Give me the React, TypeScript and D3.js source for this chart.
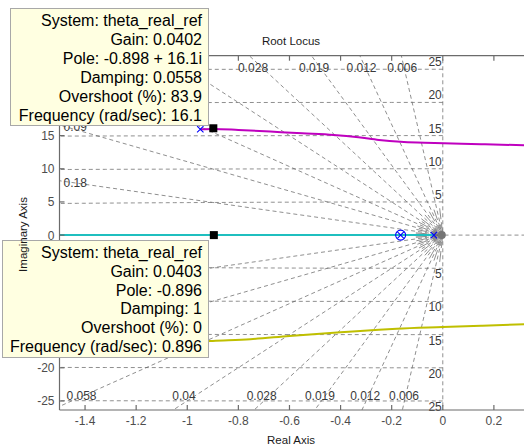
import { useRef, useEffect } from "react";
import * as d3 from "d3";

// axis ticks
const xTicks = [-1.4, -1.2, -1, -0.8, -0.6, -0.4, -0.2, 0, 0.2];
const yTicks = [-25, -20, -15, -10, -5, 0, 5, 10, 15, 20, 25];

// sgrid: damping ratios (labelled) and natural frequencies
const zetaLabelled = [0.006, 0.012, 0.019, 0.028, 0.04, 0.058, 0.09, 0.18];
const zetaInner = [0.003, 0.009, 0.015, 0.023, 0.034, 0.048, 0.072, 0.12, 0.3, 0.6];
const wnGrid = [5, 10, 15, 20, 25];

// root locus branches
const magentaRe = [-0.949, -0.898, -0.8, -0.675, -0.55, -0.427, -0.33, -0.25, -0.165, -0.1, 0.004, 0.15, 0.318, 0.45];
const magentaIm = [15.95, 16.0, 15.85, 15.6, 15.35, 15.1, 14.75, 14.35, 14.07, 13.95, 13.85, 13.7, 13.55, 13.5];
const yellowRe = [-0.949, -0.9, -0.753, -0.6, -0.4, -0.25, -0.18, 0.0, 0.15, 0.318, 0.45];
const yellowIm = [-16.05, -15.95, -15.7, -15.2, -14.65, -14.25, -14.1, -13.85, -13.65, -13.45, -13.35];
const cyanRe = [-1.7, -0.035];
const cyanIm = [0, 0];

// open-loop poles and zeros
const poleRe = [-0.949, -0.949, -0.165, -0.035];
const poleIm = [15.95, -16.05, 0, 0];
const zeroRe = [-0.165];
const zeroIm = [0];

// data tips
const tipRe = [-0.898, -0.896];
const tipIm = [16.1, 0];
const tipTop = [
  "System: theta_real_ref",
  "Gain: 0.0402",
  "Pole: -0.898 + 16.1i",
  "Damping: 0.0558",
  "Overshoot (%): 83.9",
  "Frequency (rad/sec): 16.1",
];
const tipBottom = [
  "System: theta_real_ref",
  "Gain: 0.0403",
  "Pole: -0.896",
  "Damping: 1",
  "Overshoot (%): 0",
  "Frequency (rad/sec): 0.896",
];

const FONT = "'Liberation Sans', Arial, sans-serif";

export default function App() {
  const svgRef = useRef<SVGSVGElement>(null);

  useEffect(() => {
    if (!svgRef.current) return;
    const width = 524;
    const height = 448;
    const left = 59.5, top = 55.7, bottom = 410, right = 545;

    // data tip boxes [x, y, w, h]
    const boxes = [
      [10.5, 8.5, 198, 117],
      [2.5, 240.5, 206, 117],
    ];
    const hidden = (px: number, py: number) =>
      boxes.some(([bx, by, bw, bh]) => px > bx - 10 && px < bx + bw && py > by && py < by + bh + 3);

    const svg = d3.select(svgRef.current);
    svg.selectAll("*").remove();
    svg.attr("width", width).attr("height", height);

    const x = d3.scaleLinear().domain([-1.5, 0.4]).range([left, right]);
    const y = d3.scaleLinear().domain([-26.36, 27.04]).range([bottom, top]);

    svg.append("rect").attr("width", width).attr("height", height).attr("fill", "#fff");

    svg.append("clipPath").attr("id", "plot")
      .append("rect").attr("x", left).attr("y", top)
      .attr("width", right - left).attr("height", bottom - top);

    const grid = svg.append("g").attr("clip-path", "url(#plot)")
      .attr("fill", "none").attr("stroke", "#5f5f5f")
      .attr("stroke-width", 0.7).attr("stroke-dasharray", "4,3");

    // natural frequency circles
    const arc = d3.line<[number, number]>().x((d) => x(d[0])).y((d) => y(d[1]));
    const zs = d3.range(0, 0.4, 0.002);
    wnGrid.forEach((wn) => {
      [1, -1].forEach((s) => {
        grid.append("path").attr("d", arc(zs.map((z) => [-z * wn, s * wn * Math.sqrt(1 - z * z)])));
      });
    });

    // imaginary and real axis grid lines
    grid.append("line").attr("x1", x(0)).attr("x2", x(0)).attr("y1", y(26.5)).attr("y2", bottom);
    grid.append("line").attr("x1", left).attr("x2", right).attr("y1", y(0)).attr("y2", y(0));

    // damping lines
    const wnMax = 40;
    zetaLabelled.forEach((z) => {
      [1, -1].forEach((s) => {
        grid.append("line")
          .attr("x1", x(0)).attr("y1", y(0))
          .attr("x2", x(-z * wnMax)).attr("y2", y(s * wnMax * Math.sqrt(1 - z * z)));
      });
    });
    const fanR = 27;
    zetaInner.forEach((z) => {
      [1, -1].forEach((s) => {
        const dx = x(-z) - x(0);
        const dy = y(s * Math.sqrt(1 - z * z)) - y(0);
        const n = Math.hypot(dx, dy);
        grid.append("line")
          .attr("x1", x(0) + (dx / n) * fanR).attr("y1", y(0) + (dy / n) * fanR)
          .attr("x2", x(0)).attr("y2", y(0))
          .attr("stroke-dasharray", "11,3");
      });
    });
    svg.append("circle").attr("cx", x(0) - 1).attr("cy", y(0)).attr("r", 4)
      .attr("fill", "#747474").attr("clip-path", "url(#plot)");

    // damping labels
    const lbl = svg.append("g").attr("font-family", FONT).attr("font-size", 12).attr("fill", "#3a3a3a");
    const put = (px: number, py: number, txt: string, anchor: string) => {
      if (hidden(px, py)) return;
      lbl.append("text").attr("x", px).attr("y", py).attr("text-anchor", anchor).text(txt);
    };
    zetaLabelled.forEach((z) => {
      const k = z / Math.sqrt(1 - z * z);
      const xt = x(-26.5 * k);
      const xb = x(-25.3 * k);
      if (xt > left + 20) put(xt, y(25) + 2.5, String(z), "middle");
      if (xb > left) {
        put(Math.max(xb, left + 22), y(-25) - 1, String(z), "middle");
      } else {
        const yi = 1.5 / k;
        put(left + 4, y(yi) + 6, String(z), "start");
        put(left + 4, y(-yi) + 6, String(z), "start");
      }
    });
    wnGrid.forEach((wn) => {
      put(x(0) - 1, y(wn) - 3, String(wn), "end");
      put(x(0) - 1, y(-wn) + 10, String(wn), "end");
    });

    // locus branches
    const plot = svg.append("g").attr("clip-path", "url(#plot)");
    const drawBranch = (re: number[], im: number[], color: string) => {
      const b = d3.line<number>()
        .x((_, i) => x(re[i]))
        .y((_, i) => y(im[i]))
        .curve(d3.curveMonotoneX);
      plot.append("path").attr("d", b(re)).attr("fill", "none")
        .attr("stroke", color).attr("stroke-width", 2);
    };
    drawBranch(cyanRe, cyanIm, "#1fbfbf");
    drawBranch(magentaRe, magentaIm, "#bf00bf");
    drawBranch(yellowRe, yellowIm, "#bfbf00");

    // poles (x) and zeros (o)
    const m = 3.2;
    poleRe.forEach((re, i) => {
      const cx = x(re), cy = y(poleIm[i]);
      plot.append("path")
        .attr("d", `M${cx - m},${cy - m}L${cx + m},${cy + m}M${cx - m},${cy + m}L${cx + m},${cy - m}`)
        .attr("stroke", "#0000ff").attr("stroke-width", 1.1);
    });
    zeroRe.forEach((re, i) => {
      plot.append("circle").attr("cx", x(re)).attr("cy", y(zeroIm[i])).attr("r", 5)
        .attr("fill", "none").attr("stroke", "#0000ff").attr("stroke-width", 1.1);
    });

    // data tip squares
    tipRe.forEach((re, i) => {
      plot.append("rect").attr("x", x(re) - 4).attr("y", y(tipIm[i]) - 4)
        .attr("width", 8).attr("height", 8).attr("fill", "#000");
    });

    // axes box
    const ax = svg.append("g").attr("stroke", "#6b6b6b").attr("stroke-width", 1.2);
    ax.append("line").attr("x1", left).attr("x2", left).attr("y1", top).attr("y2", bottom);
    ax.append("line").attr("x1", left).attr("x2", right).attr("y1", bottom).attr("y2", bottom);
    ax.append("line").attr("x1", left).attr("x2", right).attr("y1", top).attr("y2", top);
    xTicks.forEach((t) => {
      ax.append("line").attr("x1", x(t)).attr("x2", x(t)).attr("y1", bottom).attr("y2", bottom - 5);
      ax.append("line").attr("x1", x(t)).attr("x2", x(t)).attr("y1", top).attr("y2", top + 5);
    });
    yTicks.forEach((t) => {
      ax.append("line").attr("x1", left).attr("x2", left + 5).attr("y1", y(t)).attr("y2", y(t));
    });

    const tl = svg.append("g").attr("font-family", FONT).attr("font-size", 12).attr("fill", "#4d4d4d");
    xTicks.forEach((t) => {
      tl.append("text").attr("x", x(t)).attr("y", 424.5).attr("text-anchor", "middle").text(String(t));
    });
    yTicks.forEach((t) => {
      if (hidden(left - 5, y(t) + 4.5)) return;
      tl.append("text").attr("x", left - 5).attr("y", y(t) + 4.5).attr("text-anchor", "end").text(String(t));
    });

    // titles
    svg.append("text").attr("x", 291).attr("y", 45).attr("text-anchor", "middle")
      .attr("font-family", FONT).attr("font-size", 11.5).attr("fill", "#1a1a1a").text("Root Locus");
    svg.append("text").attr("x", 291).attr("y", 444).attr("text-anchor", "middle")
      .attr("font-family", FONT).attr("font-size", 11.5).attr("fill", "#1a1a1a").text("Real Axis");

    // data tip boxes
    const tips = [tipTop, tipBottom];
    const firstLine = [25.5, 258];
    const lineStep = [19, 18.8];
    boxes.forEach(([bx, by, bw, bh], j) => {
      const g = svg.append("g");
      g.append("rect").attr("x", bx).attr("y", by).attr("width", bw).attr("height", bh)
        .attr("fill", "#ffffe1").attr("stroke", "#a8a8a8").attr("stroke-width", 1);
      tips[j].forEach((l, i) => {
        g.append("text").attr("x", bx + bw - 6.5).attr("y", firstLine[j] + i * lineStep[j])
          .attr("text-anchor", "end").attr("font-family", FONT).attr("font-size", 16)
          .attr("fill", "#000").text(l);
      });
    });

    svg.append("text").attr("transform", `translate(26.5,234.5) rotate(-90)`).attr("text-anchor", "middle")
      .attr("font-family", FONT).attr("font-size", 11.5).attr("fill", "#1a1a1a").text("Imaginary Axis");
  }, []);

  return (
    <div style={{ position: "absolute", left: 0, top: 0 }}>
      <svg ref={svgRef} style={{ display: "block" }} />
    </div>
  );
}
